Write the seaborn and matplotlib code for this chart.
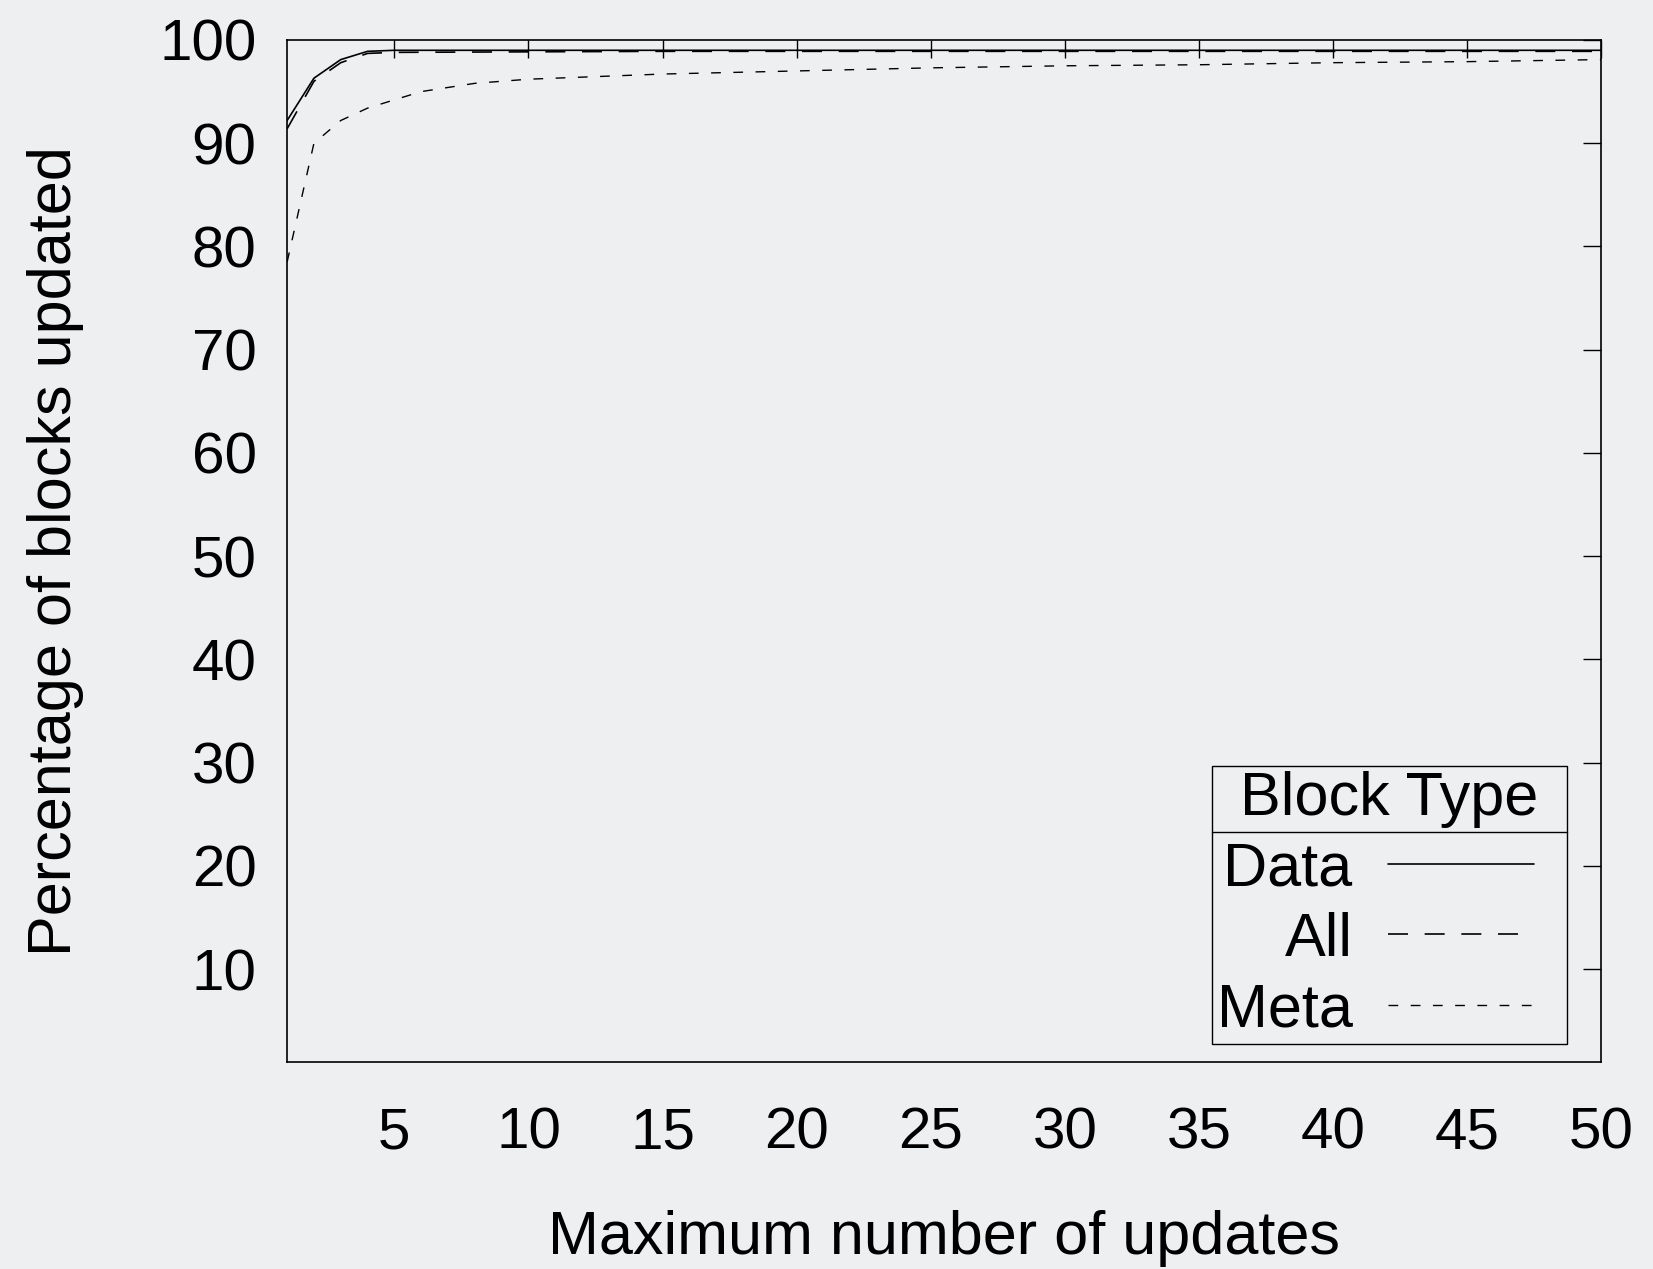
import matplotlib
matplotlib.use("Agg")
import matplotlib.pyplot as plt
import seaborn as sns
import numpy as np
from matplotlib.lines import Line2D

# values
data_x = [1, 2, 3, 4, 5, 10, 15, 20, 25, 30, 35, 40, 45, 50]
data_y = [92.2, 96.3, 98.1, 98.9, 99.0, 99.0, 99.0, 99.0, 99.0, 99.0, 99.0, 99.0, 99.0, 99.0]

all_x = [1, 2, 3, 4, 5, 10, 15, 20, 25, 30, 35, 40, 45, 50]
all_y = [91.4, 96.0, 97.8, 98.7, 98.8, 98.85, 98.9, 98.9, 98.9, 98.9, 98.9, 98.9, 98.9, 98.9]

meta_x = [1, 2, 3, 4, 5, 6, 7, 8, 9, 10, 12, 15, 20, 25, 30, 35, 40, 45, 50]
meta_y = [78.5, 90.0, 92.2, 93.4, 94.2, 95.0, 95.4, 95.8, 96.0, 96.2, 96.4, 96.7, 97.0, 97.3, 97.5, 97.6, 97.8, 97.9, 98.1]

x_ticks = [5, 10, 15, 20, 25, 30, 35, 40, 45, 50]
y_ticks = [10, 20, 30, 40, 50, 60, 70, 80, 90, 100]

bg = "#eeeff1"
sns.set_style("white")
plt.rcParams["font.family"] = ["Liberation Sans", "DejaVu Sans"]
plt.rcParams["text.color"] = "black"
plt.rcParams["axes.labelcolor"] = "black"
plt.rcParams["xtick.color"] = "black"
plt.rcParams["ytick.color"] = "black"

fig = plt.figure(figsize=(16.53, 12.69), dpi=100, facecolor=bg)
ax = fig.add_axes([0.1737, 0.1631, 0.7949, 0.8054])
ax.set_facecolor(bg)

sns.lineplot(x=data_x, y=data_y, ax=ax, color="black", lw=1.2, linestyle="-", label="Data")
sns.lineplot(x=all_x, y=all_y, ax=ax, color="black", lw=1.2, linestyle=(0, (12, 10)), label="All")
sns.lineplot(x=meta_x, y=meta_y, ax=ax, color="black", lw=1.0, linestyle=(0, (7, 9)), label="Meta")

ax.set_xlim(1, 50)
ax.set_ylim(1, 100)
ax.set_xticks(x_ticks)
ax.set_yticks(y_ticks)
ax.tick_params(axis="both", direction="in", length=13, width=1, color="black",
               labelsize=42, labelcolor="black", top=True, right=True)
ax.tick_params(axis="x", pad=32)
ax.tick_params(axis="y", pad=22)
for s in ax.spines.values():
    s.set_color("black")
    s.set_linewidth(1.2)

ax.set_xlabel("Maximum number of updates", fontsize=44, labelpad=36)
ax.set_ylabel("Percentage of blocks updated", fontsize=44, labelpad=54)

leg = ax.legend(title="Block Type", loc="lower right", bbox_to_anchor=(0.974, 0.0176),
                markerfirst=False, fontsize=44, title_fontsize=44, frameon=True,
                fancybox=False, edgecolor="black", facecolor=bg, framealpha=1,
                handlelength=2.85, handletextpad=0.58, labelspacing=0.22,
                borderpad=0.08, borderaxespad=0)
leg.get_frame().set_linewidth(1.0)
# gnuplot-style key: sample lines stop short of the right edge
for ln in leg.get_lines():
    xd = np.asarray(ln.get_xdata(), dtype=float)
    ln.set_xdata(xd[0] + (xd - xd[0]) * 0.84)

# separator line under the legend title
fig.canvas.draw()
lb = leg.get_window_extent()
tb = leg.get_title().get_window_extent()
inv = fig.transFigure.inverted()
(x0, y0) = inv.transform((lb.x0, tb.y0 - 4))
(x1, _) = inv.transform((lb.x1, tb.y0 - 4))
fig.add_artist(Line2D([x0, x1], [y0, y0], color="black", lw=1.0, transform=fig.transFigure))

fig.savefig("out.png", dpi=100, facecolor=bg)
